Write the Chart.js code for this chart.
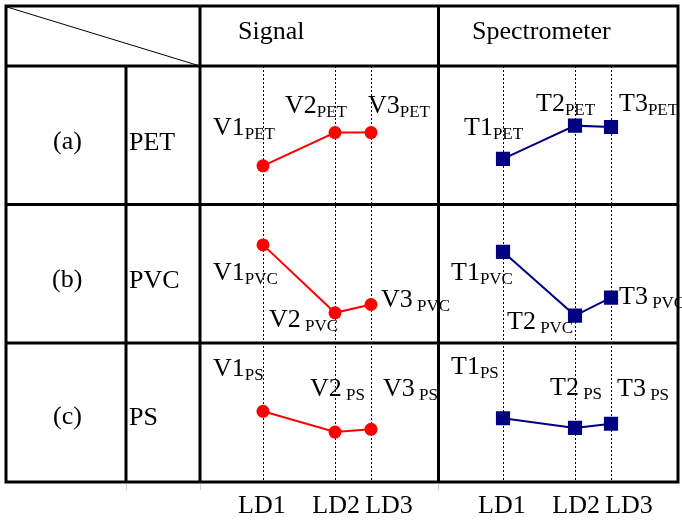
<!DOCTYPE html>
<html>
<head>
<meta charset="utf-8">
<script src="https://cdn.jsdelivr.net/npm/chart.js@4"></script>
<style>
  html, body { margin: 0; padding: 0; background: #fff; }
  #wrap { position: relative; width: 682px; height: 520px; overflow: hidden; }
  #wrap canvas { position: absolute; top: 66px; }
  #sigCanvas { left: 200px; }
  #specCanvas { left: 440px; }
  #grid { position: absolute; left: 0; top: 0; pointer-events: none; }
  #grid text { font-family: 'Liberation Serif', 'Times New Roman', serif; font-size: 26px; fill: #000; }
</style>
</head>
<body>
<div id="wrap">
  <canvas id="sigCanvas" width="260" height="454"></canvas>
  <canvas id="specCanvas" width="260" height="454"></canvas>
  <svg id="grid" width="682" height="520">
    <g stroke="#000" stroke-width="3" fill="none">
      <rect x="6" y="6" width="672" height="476"/>
      <line x1="6" y1="66" x2="678" y2="66"/>
      <line x1="6" y1="204.5" x2="678" y2="204.5"/>
      <line x1="6" y1="343" x2="678" y2="343"/>
      <line x1="126" y1="66" x2="126" y2="482"/>
      <line x1="200" y1="6" x2="200" y2="482"/>
      <line x1="438.5" y1="6" x2="438.5" y2="482"/>
    </g>
    <line x1="7" y1="7" x2="200" y2="66" stroke="#000" stroke-width="1"/>
    <g stroke="#cfcfcf" stroke-width="1">
      <line x1="126.5" y1="484" x2="126.5" y2="490"/>
      <line x1="200.5" y1="484" x2="200.5" y2="490"/>
      <line x1="438.5" y1="484" x2="438.5" y2="490"/>
    </g>
    <text x="238" y="39">Signal</text>
    <text x="472" y="39">Spectrometer</text>
    <text x="53" y="149">(a)</text>
    <text x="52" y="287">(b)</text>
    <text x="53" y="424">(c)</text>
    <text x="129" y="150">PET</text>
    <text x="129" y="288">PVC</text>
    <text x="129" y="425">PS</text>
  </svg>
</div>
<script>
// LD1..LD3 positions along x (LD2 and LD3 are closer together)
const ldLabels = ['LD1', 'LD2', 'LD3'];
const ldPositions = [1, 3, 4];
const materials = ['PET', 'PVC', 'PS'];

// relative levels per material row (0..10 each)
const signalPET = [2.8, 5.2, 5.2];
const signalPVC = [7.1, 2.2, 2.8];
const signalPS = [5.1, 3.6, 3.8];
const specPET = [3.3, 5.7, 5.6];
const specPVC = [6.6, 2.0, 3.3];
const specPS = [4.6, 3.9, 4.2];

// subscripts next to each point name
const subsPET = ['PET', 'PET', 'PET'];
const subsPVC = ['PVC', ' PVC', ' PVC'];
const subsPS = ['PS', ' PS', ' PS'];

// the LD captions are spread a bit wider than the lines so LD2/LD3 don't collide
const ldCaptionAt = [0.97, 3.03, 4.5];

// where each point name sits relative to its point (text left, baseline)
const signalOffsets = {
  PET: [[-50, -31], [-50, -20], [-3, -20]],
  PVC: [[-50, 35], [-66, 14], [10, 2]],
  PS: [[-50, -35], [-25, -36], [12, -33]]
};
const specOffsets = {
  PET: [[-39, -24], [-39, -15], [8, -16]],
  PVC: [[-52, 28], [-68, 13], [8, 6]],
  PS: [[-52, -44], [-25, -33], [6, -28]]
};

const serif = '"Liberation Serif", "Times New Roman", serif';

const pointLabels = {
  id: 'pointLabels',
  afterDatasetsDraw(chart) {
    const ctx = chart.ctx;
    chart.data.datasets.forEach((ds, i) => {
      const meta = chart.getDatasetMeta(i);
      meta.data.forEach((pt, j) => {
        const [dx, dy] = ds.labelOffsets[j];
        const x = pt.x + dx, y = pt.y + dy;
        const main = ds.prefix + (j + 1);
        ctx.save();
        ctx.fillStyle = '#000';
        ctx.textAlign = 'left';
        ctx.textBaseline = 'alphabetic';
        ctx.font = '26px ' + serif;
        ctx.fillText(main, x, y);
        const w = ctx.measureText(main).width;
        ctx.font = '17px ' + serif;
        ctx.fillText(ds.subs[j], x + w, y + 4);
        ctx.restore();
      });
    });
  }
};

function rowAxis() {
  return {
    type: 'linear',
    position: 'left',
    stack: 'rows',
    min: 0,
    max: 10,
    ticks: { display: false },
    grid: { display: false, drawTicks: false },
    border: { display: false },
    afterFit: s => { s.width = 0; }
  };
}

function makeColumn(id, prefix, rows, offsets, color, pointStyle, radius) {
  const datasets = materials.map((m, k) => ({
    label: prefix + ' ' + m,
    data: rows[k].map((v, i) => ({ x: ldPositions[i], y: v })),
    yAxisID: 'y' + m,
    borderColor: color,
    backgroundColor: color,
    borderWidth: 2,
    pointStyle: pointStyle,
    pointRadius: radius,
    pointBorderWidth: 0,
    pointBackgroundColor: color,
    prefix: prefix,
    subs: [subsPET, subsPVC, subsPS][k],
    labelOffsets: offsets[m]
  }));

  new Chart(document.getElementById(id), {
    type: 'line',
    data: { datasets },
    options: {
      responsive: false,
      animation: false,
      layout: { padding: 0, autoPadding: false },
      plugins: { legend: { display: false }, tooltip: { enabled: false } },
      scales: {
        // dotted LD lines
        x: {
          type: 'linear',
          min: -0.75,
          max: 6.472,
          afterBuildTicks: s => { s.ticks = ldPositions.map(v => ({ value: v })); },
          afterFit: s => { s.height = 0; },
          ticks: { display: false },
          grid: { color: '#000', lineWidth: 1, drawTicks: false },
          border: { display: false, dash: [2, 2] }
        },
        // LD captions under the table
        xCaption: {
          type: 'linear',
          position: 'bottom',
          min: -0.75,
          max: 6.472,
          afterBuildTicks: s => { s.ticks = ldCaptionAt.map(v => ({ value: v })); },
          afterFit: s => { s.height = 38; },
          ticks: {
            autoSkip: false,
            maxRotation: 0,
            padding: 9,
            color: '#000',
            font: { family: serif, size: 26 },
            callback: v => ldLabels[ldCaptionAt.indexOf(v)]
          },
          grid: { display: false, drawTicks: false },
          border: { display: false }
        },
        // stacked rows are laid out bottom-up
        yPS: rowAxis(),
        yPVC: rowAxis(),
        yPET: rowAxis()
      }
    },
    plugins: [pointLabels]
  });
}

makeColumn('sigCanvas', 'V', [signalPET, signalPVC, signalPS], signalOffsets, '#ff0000', 'circle', 6.5);
makeColumn('specCanvas', 'T', [specPET, specPVC, specPS], specOffsets, '#000080', 'rect', 10);
</script>
</body>
</html>
